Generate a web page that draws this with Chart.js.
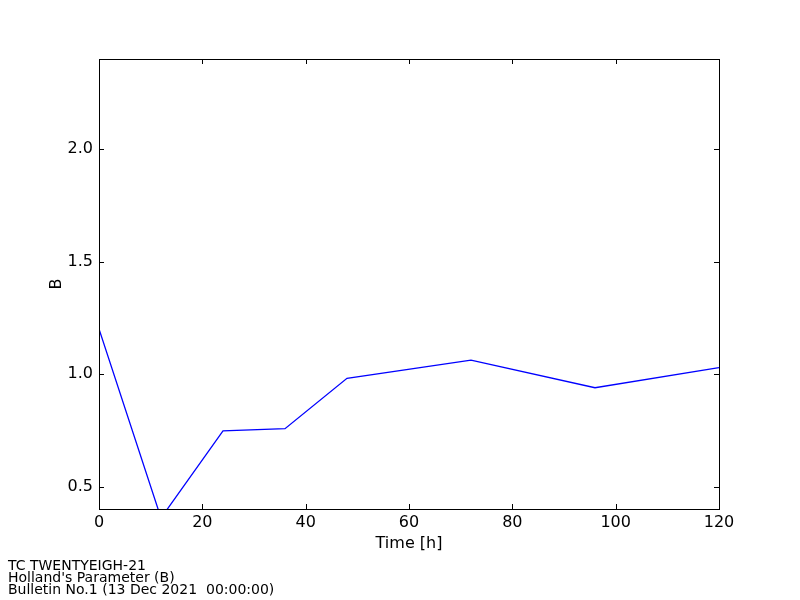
<!DOCTYPE html>
<html>
<head>
<meta charset="utf-8">
<script src="https://cdn.jsdelivr.net/npm/chart.js@4.4.0/dist/chart.umd.min.js"></script>
<style>
  html, body { margin: 0; padding: 0; background: #fff; }
  #wrap { width: 800px; height: 600px; position: relative; }
</style>
</head>
<body>
<div id="wrap"><canvas id="chartB" width="800" height="600"></canvas></div>
<script>
// Datos de la gráfica (parámetro B de Holland vs. tiempo)
const hours = [0, 12, 24, 36, 48, 72, 96, 120];
const bValues = [1.2, 0.36, 0.747, 0.757, 0.981, 1.062, 0.939, 1.028];
const xTicks = [0, 20, 40, 60, 80, 100, 120];
const yTicks = [0.5, 1.0, 1.5, 2.0];
const footerLines = ['TC TWENTYEIGH-21', "Holland's Parameter (B)", 'Bulletin No.1 (13 Dec 2021  00:00:00)'];

const FONT = "'DejaVu Sans', sans-serif";

// Marco negro y marcas hacia adentro en los cuatro lados (estilo matplotlib)
const framePlugin = {
  id: 'frame',
  afterDatasetsDraw(chart) {
    const { ctx, chartArea: a, scales } = chart;
    const len = 5;
    ctx.save();
    ctx.strokeStyle = '#000';
    ctx.lineWidth = 1;
    ctx.beginPath();
    xTicks.forEach((v) => {
      const x = Math.round(scales.x.getPixelForValue(v)) + 0.5;
      ctx.moveTo(x, a.bottom); ctx.lineTo(x, a.bottom - len);
      ctx.moveTo(x, a.top); ctx.lineTo(x, a.top + len);
    });
    yTicks.forEach((v) => {
      const y = Math.round(scales.y.getPixelForValue(v)) + 0.5;
      ctx.moveTo(a.left, y); ctx.lineTo(a.left + len, y);
      ctx.moveTo(a.right, y); ctx.lineTo(a.right - len, y);
    });
    ctx.stroke();
    ctx.strokeRect(Math.round(a.left) + 0.5, Math.round(a.top) + 0.5, Math.round(a.right - a.left), Math.round(a.bottom - a.top));
    ctx.restore();
  }
};

// Texto al pie (esquina inferior izquierda)
const footerPlugin = {
  id: 'footer',
  afterDraw(chart) {
    const { ctx } = chart;
    ctx.save();
    ctx.fillStyle = '#000';
    ctx.font = '14px ' + FONT;
    ctx.textAlign = 'left';
    ctx.textBaseline = 'alphabetic';
    footerLines.forEach((t, i) => ctx.fillText(t, 8, 570 + i * 12));
    ctx.restore();
  }
};

new Chart(document.getElementById('chartB'), {
  type: 'line',
  data: {
    datasets: [{
      data: hours.map((h, i) => ({ x: h, y: bValues[i] })),
      borderColor: '#0000ff',
      borderWidth: 1.3,
      pointRadius: 0,
      tension: 0,
      fill: false
    }]
  },
  options: {
    responsive: false,
    animation: false,
    layout: { padding: { left: 47, right: 81, top: 59, bottom: 47 } },
    plugins: { legend: { display: false }, tooltip: { enabled: false } },
    scales: {
      x: {
        type: 'linear', min: 0, max: 120,
        grid: { display: false }, border: { display: false },
        afterBuildTicks: (s) => { s.ticks = xTicks.map((v) => ({ value: v })); },
        afterFit: (s) => { s.height = 44; },
        ticks: { color: '#000', font: { family: FONT, size: 16 }, padding: -4, maxRotation: 0 },
        title: { display: true, text: 'Time [h]', color: '#000', font: { family: FONT, size: 16 }, padding: 0 }
      },
      y: {
        type: 'linear', min: 0.4, max: 2.4,
        grid: { display: false }, border: { display: false },
        afterBuildTicks: (s) => { s.ticks = yTicks.map((v) => ({ value: v })); },
        afterFit: (s) => { s.width = 52; },
        ticks: { color: '#000', font: { family: FONT, size: 16 }, padding: -2, callback: (v) => v.toFixed(1) },
        title: { display: true, text: 'B', color: '#000', font: { family: FONT, size: 16 }, padding: 0 }
      }
    }
  },
  plugins: [framePlugin, footerPlugin]
});
</script>
</body>
</html>
